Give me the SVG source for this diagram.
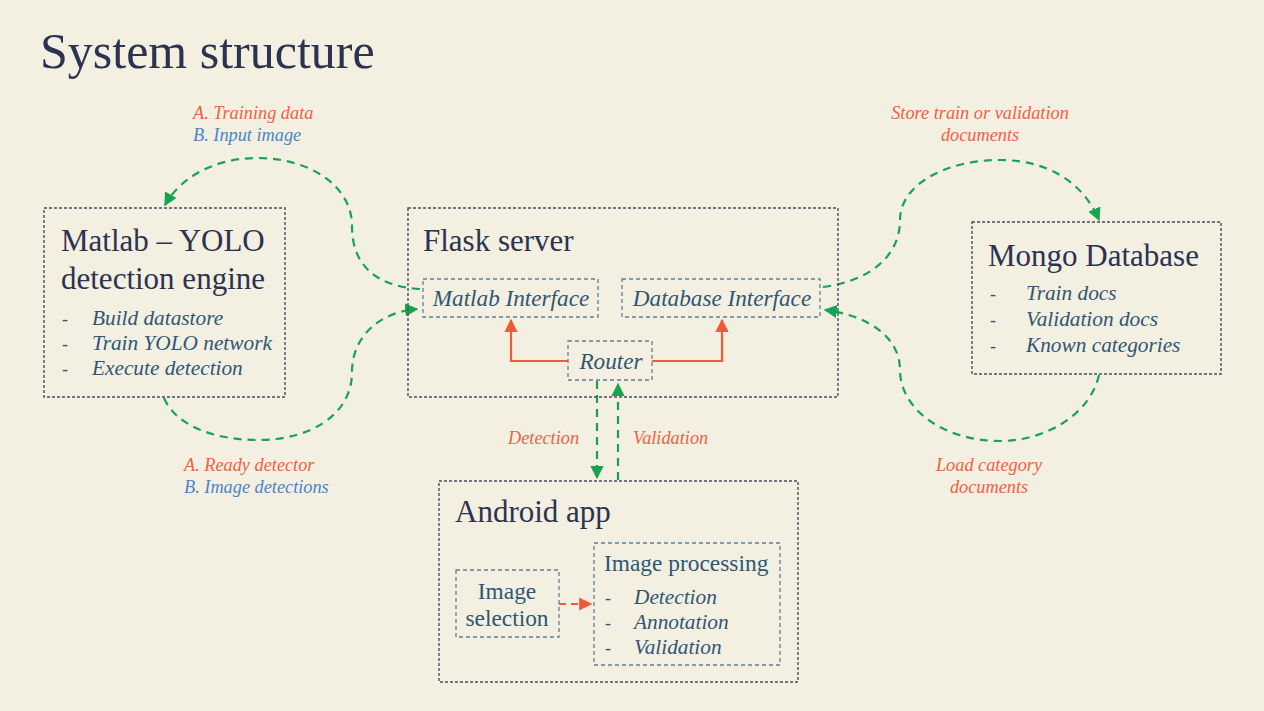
<svg xmlns="http://www.w3.org/2000/svg" width="1264" height="711" viewBox="0 0 1264 711">
<defs>
<style>
.bg{fill:#F3EFE1}
.outer{fill:none;stroke:#4A4E5E;stroke-width:1.4;stroke-dasharray:3 2}
.inner{fill:none;stroke:#5F7F98;stroke-width:1.3;stroke-dasharray:4 3}
.head{font-family:"Liberation Serif","Times New Roman",serif;font-size:31px;fill:#2B3350}
.sub{font-family:"Liberation Serif","Times New Roman",serif;font-size:23.4px;fill:#2F5775}
.it{font-family:"Liberation Serif","Times New Roman",serif;font-size:21.3px;font-style:italic;fill:#2F5775}
.itb{font-family:"Liberation Serif","Times New Roman",serif;font-size:23.2px;font-style:italic;fill:#2F5775}
.dash{font-family:"Liberation Serif","Times New Roman",serif;font-size:18px;fill:#2F5775}
.lo{font-family:"Liberation Serif","Times New Roman",serif;font-size:18.3px;font-style:italic;fill:#EE6244}
.lb{font-family:"Liberation Serif","Times New Roman",serif;font-size:18.3px;font-style:italic;fill:#4A86C6}
.g{fill:none;stroke:#16A352;stroke-width:2.2;stroke-dasharray:8 6}
.o{fill:none;stroke:#EE5B3B;stroke-width:2.2}
.od{fill:none;stroke:#EE5B3B;stroke-width:2.2;stroke-dasharray:7 5}
</style>
<marker id="ag" viewBox="0 0 10 10" refX="9" refY="5" markerWidth="6" markerHeight="6" markerUnits="strokeWidth" orient="auto"><path d="M0,0 L10,5 L0,10 z" fill="#16A352"/></marker>
<marker id="ao" viewBox="0 0 10 10" refX="9" refY="5" markerWidth="6" markerHeight="6" markerUnits="strokeWidth" orient="auto"><path d="M0,0 L10,5 L0,10 z" fill="#EE5B3B"/></marker>
</defs>
<rect class="bg" x="0" y="0" width="1264" height="711"/>
<text x="40" y="68" font-family="'Liberation Serif','Times New Roman',serif" font-size="50" fill="#2B3350">System structure</text>

<g id="connectors">
<path class="g" d="M420 289 C372 286 352 262 352 226 C352 186 310 158 257 158 C214 158 180 178 165 205" marker-end="url(#ag)"/>
<path class="g" d="M164 398 C176 426 215 440 258 440 C310 440 352 415 352 372 C352 336 380 312 417 309" marker-end="url(#ag)"/>
<path class="g" d="M823 287 C870 281 900 256 900 220 C900 185 945 160 1000 160 C1045 160 1082 180 1099 220" marker-end="url(#ag)"/>
<path class="g" d="M1099 375 C1090 415 1045 441 1000 441 C945 441 900 410 900 370 C900 336 866 315 825 310" marker-end="url(#ag)"/>
<path class="g" d="M597 381 L597 478" marker-end="url(#ag)"/>
<path class="g" d="M618 480 L618 384" marker-end="url(#ag)"/>
<path class="o" d="M568 361 L511 361 L511 320" marker-end="url(#ao)"/>
<path class="o" d="M652 361 L722 361 L722 320" marker-end="url(#ao)"/>
<path class="od" d="M559 604 L591 604" marker-end="url(#ao)"/>
<text class="lo" x="193" y="119">A. Training data</text>
<text class="lb" x="193" y="141">B. Input image</text>
<text class="lo" x="184" y="471">A. Ready detector</text>
<text class="lb" x="184" y="493">B. Image detections</text>
<text class="lo" x="980" y="119" text-anchor="middle">Store train or validation</text>
<text class="lo" x="980" y="141" text-anchor="middle">documents</text>
<text class="lo" x="989" y="471" text-anchor="middle">Load category</text>
<text class="lo" x="989" y="493" text-anchor="middle">documents</text>
<text class="lo" x="508" y="444">Detection</text>
<text class="lo" x="633" y="444">Validation</text>
</g>

<g id="matlab">
<rect class="outer" x="44" y="208" width="241" height="189"/>
<text class="head" x="61" y="251">Matlab – YOLO</text>
<text class="head" x="61" y="289">detection engine</text>
<text class="dash" x="62" y="325">-</text><text class="it" x="92" y="325">Build datastore</text>
<text class="dash" x="62" y="350">-</text><text class="it" x="92" y="350">Train YOLO network</text>
<text class="dash" x="62" y="375">-</text><text class="it" x="92" y="375">Execute detection</text>
</g>

<g id="flask">
<rect class="outer" x="408" y="208" width="430" height="189"/>
<text class="head" x="423" y="251">Flask server</text>
</g>
<g id="matlab-interface">
<rect class="inner" x="423" y="279" width="175" height="38"/>
<text class="itb" x="511" y="306" text-anchor="middle">Matlab Interface</text>
</g>
<g id="database-interface">
<rect class="inner" x="622" y="279" width="198" height="38"/>
<text class="itb" x="722" y="306" text-anchor="middle">Database Interface</text>
</g>
<g id="router">
<rect class="inner" x="568" y="341" width="84" height="39"/>
<text class="itb" x="611" y="369" text-anchor="middle">Router</text>
</g>

<g id="mongo">
<rect class="outer" x="972" y="222" width="249" height="152"/>
<text class="head" x="988" y="266">Mongo Database</text>
<text class="dash" x="990" y="300">-</text><text class="it" x="1026" y="300">Train docs</text>
<text class="dash" x="990" y="326">-</text><text class="it" x="1026" y="326">Validation docs</text>
<text class="dash" x="990" y="352">-</text><text class="it" x="1026" y="352">Known categories</text>
</g>

<g id="android">
<rect class="outer" x="439" y="481" width="359" height="201"/>
<text class="head" x="455" y="522">Android app</text>
</g>
<g id="image-selection">
<rect class="inner" x="456" y="570" width="103" height="67"/>
<text class="sub" x="507" y="599" text-anchor="middle">Image</text>
<text class="sub" x="507" y="626" text-anchor="middle">selection</text>
</g>
<g id="image-processing">
<rect class="inner" x="594" y="543" width="186" height="122"/>
<text class="sub" x="604" y="571">Image processing</text>
<text class="dash" x="605" y="604">-</text><text class="it" x="634" y="604">Detection</text>
<text class="dash" x="605" y="629">-</text><text class="it" x="634" y="629">Annotation</text>
<text class="dash" x="605" y="654">-</text><text class="it" x="634" y="654">Validation</text>
</g>
</svg>
